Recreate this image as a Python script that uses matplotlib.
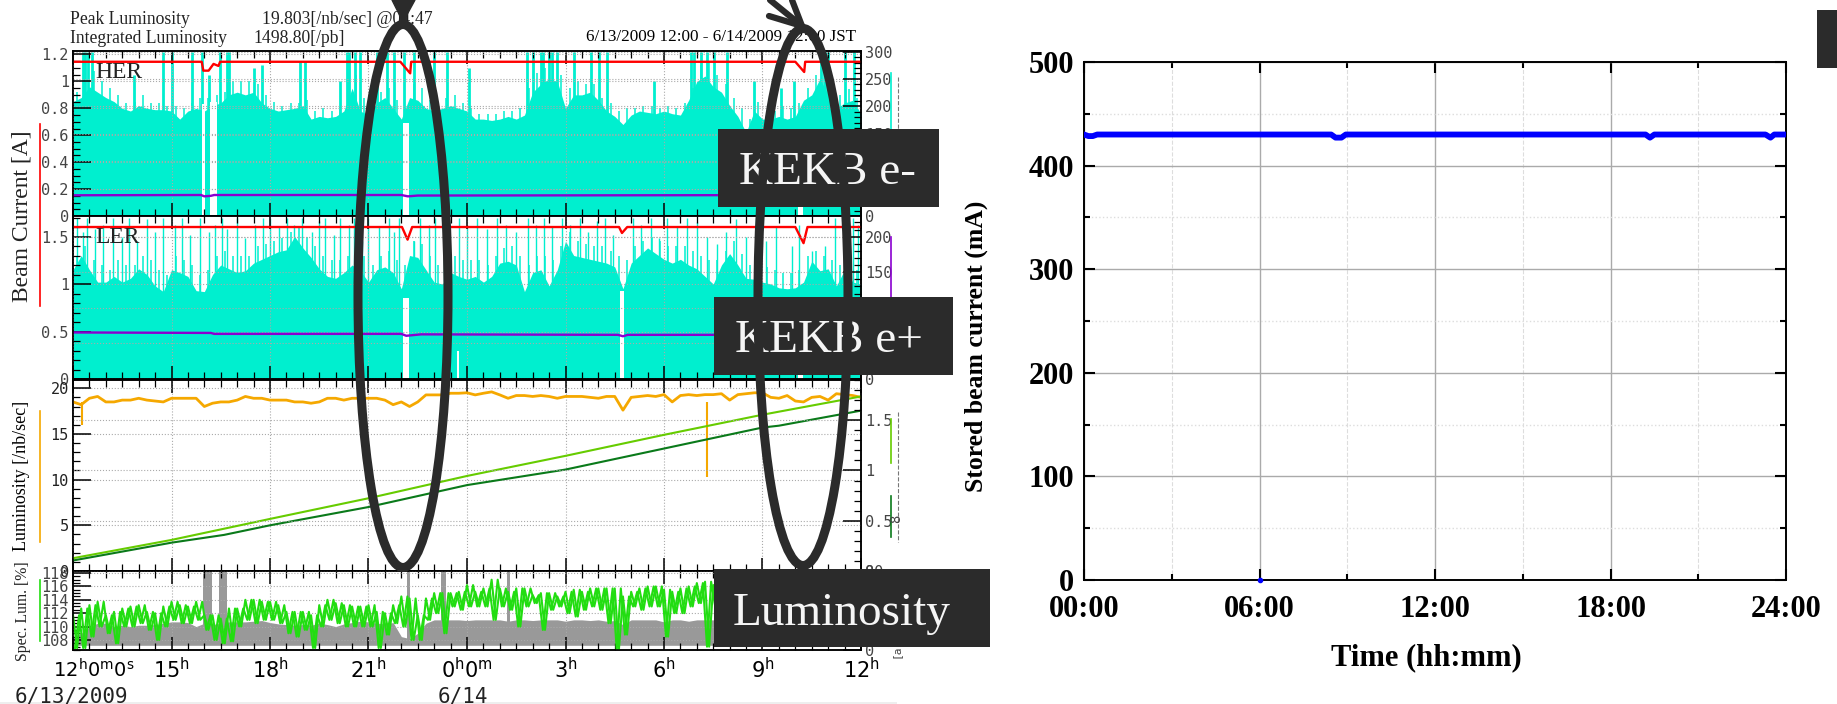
import numpy as np
import matplotlib
matplotlib.use('Agg')
import matplotlib.pyplot as plt
from matplotlib.patches import Ellipse, Rectangle
from matplotlib.ticker import MultipleLocator

W, H = 1837, 704

# ---- left panels, hours since 12:00 on 6/13 ----
her_env = [0.85, 0.88, 0.96, 0.92, 0.88, 0.85, 0.80, 0.78, 0.82, 0.80, 0.79, 0.79, 0.78, 0.72, 0.78, 0.80,
           0.78, 0.82, 0.84, 0.90, 0.92, 0.90, 0.92, 0.84, 0.80, 0.78, 0.79, 0.80, 0.82, 0.72, 0.74, 0.73,
           0.74, 0.78, 0.95, 0.78, 0.75, 0.84, 0.88, 0.80, 0.72, 0.88, 0.86, 0.80, 0.78, 0.80, 0.82, 0.80,
           0.78, 0.72, 0.72, 0.71, 0.72, 0.74, 0.72, 0.75, 0.92, 0.98, 1.02, 1.00, 0.80, 0.90, 0.90, 0.92,
           0.86, 0.78, 0.74, 0.68, 0.75, 0.78, 0.77, 0.76, 0.78, 0.76, 0.75, 0.86, 1.00, 1.04, 0.96, 0.92,
           0.82, 0.74, 0.62, 0.78, 0.72, 0.72, 0.74, 0.72, 0.74, 0.86, 0.90, 1.02, 0.90, 0.80, 0.84, 0.86, 0.76]
her_grass = [0.92, 0.98, 1.08, 1.00, 0.95, 0.90, 0.84, 0.85, 0.90, 0.84, 0.84, 0.82, 0.82, 0.80, 0.84, 0.88,
             0.88, 0.90, 0.92, 1.00, 1.00, 1.00, 0.98, 0.90, 0.85, 0.82, 0.84, 0.84, 0.86, 0.78, 0.80, 0.78,
             0.82, 0.90, 1.05, 0.88, 0.80, 0.92, 0.95, 0.86, 0.80, 0.98, 0.95, 0.86, 0.84, 0.88, 0.90, 0.84,
             0.80, 0.76, 0.76, 0.76, 0.78, 0.78, 0.80, 0.95, 1.06, 1.10, 1.12, 1.05, 0.95, 1.00, 0.98, 0.98,
             0.88, 0.84, 0.78, 0.80, 0.80, 0.82, 0.82, 0.80, 0.82, 0.80, 0.84, 0.95, 1.12, 1.15, 1.05, 0.98,
             0.88, 0.80, 0.72, 0.85, 0.78, 0.78, 0.82, 0.80, 0.84, 0.95, 1.05, 1.12, 1.00, 0.90, 0.94, 0.88]
her_spike_t = [0.31, 0.38, 0.47, 0.57, 1.85, 2.75, 3.0, 3.62, 3.92, 4.13, 4.48, 4.69, 4.75, 5.5, 5.75, 6.9, 7.07, 8.14,
               8.35, 8.42, 8.6, 8.75, 9.26, 9.57, 9.77, 10.07, 10.38, 10.98, 11.4, 12.05, 13.83, 14.0, 14.24, 14.32, 14.5,
               14.6, 14.75, 15.25, 15.77, 16.02, 16.27, 17.7, 18.82, 18.9, 19.12, 19.32, 19.52, 19.93, 20.75, 21.55,
               21.96, 22.78, 22.9, 23.0, 23.5, 23.8]
her_spike_top = [1.22, 1.22, 1.22, 1.22, 1.05, 1.22, 1.22, 1.22, 1.22, 1.05, 1.22, 1.22, 1.22, 1.10, 1.12, 1.15, 1.15, 1.00,
                 1.22, 1.22, 1.22, 1.22, 1.22, 1.22, 1.22, 1.22, 1.22, 1.22, 1.22, 1.10, 1.22, 1.22, 1.22, 1.22, 1.22,
                 1.22, 1.22, 1.22, 1.22, 1.22, 1.22, 1.00, 1.22, 1.22, 1.22, 1.22, 1.22, 1.22, 1.00, 0.95,
                 1.00, 1.22, 1.22, 1.22, 1.22, 1.22]
her_gaps = [(3.92, 4.02, 0.83), (4.18, 4.39, 0.85), (10.05, 10.22, 0.69), (22.07, 22.22, 0.30)]
her_red_t = [0, 3.92, 3.97, 4.13, 4.28, 4.43, 4.48, 9.97, 10.27, 10.3, 22.0, 22.27, 22.3, 24]
her_red = [1.146, 1.146, 1.08, 1.08, 1.13, 1.115, 1.146, 1.146, 1.06, 1.146, 1.146, 1.07, 1.146, 1.146]
her_purple_t = [0, 3.9, 4.0, 4.2, 4.3, 10.0, 10.2, 10.5, 24]
her_purple = [0.154, 0.156, 0.146, 0.150, 0.156, 0.156, 0.146, 0.152, 0.156]

ler_env = [1.15, 1.30, 1.15, 1.02, 1.02, 1.08, 1.02, 1.06, 1.16, 1.10, 0.98, 0.92, 1.15, 1.12, 1.08, 0.93,
           0.92, 1.10, 1.20, 1.16, 1.12, 1.14, 1.22, 1.26, 1.30, 1.34, 1.36, 1.50, 1.38, 1.28, 1.16, 1.08,
           1.06, 1.12, 1.20, 1.14, 1.02, 1.15, 1.18, 1.12, 0.95, 1.30, 1.28, 1.15, 1.02, 1.00, 1.12, 1.08,
           1.05, 1.08, 1.02, 1.08, 1.22, 1.24, 1.20, 0.92, 1.12, 1.15, 0.98, 1.15, 1.45, 1.30, 1.28, 1.26,
           1.24, 1.22, 1.18, 0.95, 1.22, 1.30, 1.38, 1.32, 1.26, 1.22, 1.26, 1.20, 1.16, 1.08, 1.00, 1.20,
           1.32, 1.20, 1.06, 1.05, 1.02, 1.00, 0.96, 0.95, 0.96, 1.02, 1.24, 1.14, 1.16, 0.98, 1.15, 1.02, 1.00]
ler_grass = [1.30, 1.40, 1.25, 1.20, 1.15, 1.25, 1.20, 1.20, 1.30, 1.25, 1.15, 1.10, 1.30, 1.25, 1.20, 1.10,
             1.15, 1.30, 1.35, 1.30, 1.30, 1.30, 1.40, 1.42, 1.45, 1.48, 1.55, 1.60, 1.50, 1.40, 1.30, 1.25,
             1.25, 1.30, 1.35, 1.30, 1.20, 1.30, 1.35, 1.25, 1.20, 1.45, 1.42, 1.30, 1.20, 1.20, 1.30, 1.25,
             1.25, 1.25, 1.20, 1.30, 1.38, 1.40, 1.30, 1.20, 1.30, 1.30, 1.25, 1.40, 1.55, 1.45, 1.42, 1.40,
             1.40, 1.35, 1.30, 1.25, 1.40, 1.45, 1.50, 1.45, 1.40, 1.40, 1.40, 1.35, 1.30, 1.25, 1.25, 1.35,
             1.45, 1.32, 1.20, 1.20, 1.18, 1.15, 1.12, 1.12, 1.15, 1.30, 1.35, 1.30, 1.25, 1.20, 1.25, 1.15]
ler_spike_t = [0.13, 0.31, 0.43, 0.67, 0.92, 1.23, 1.48, 1.72, 1.96, 2.25, 2.5, 2.75, 3.11, 3.31, 3.57, 3.87,
               4.13, 4.33, 4.53, 4.69, 4.99, 5.24, 5.55, 5.8, 6.0, 6.26, 6.51, 6.72, 6.97, 7.28, 7.48, 7.68,
               7.94, 8.14, 8.4, 8.55, 8.8, 9.0, 9.31, 9.61, 9.77, 9.92, 10.38, 10.58, 10.83, 11.03, 11.29,
               11.75, 12.0, 12.3, 12.6, 12.9, 13.2, 13.5, 13.85, 14.1, 14.35, 14.6, 14.9, 15.15, 15.45, 15.7,
               15.95, 16.2, 16.45, 17.05, 17.3, 17.6, 17.85, 18.1, 18.4, 18.7, 19.0, 19.3, 19.6, 19.9, 20.2,
               20.5, 20.8, 21.1, 21.4, 21.9, 22.1, 22.5, 22.9, 23.2, 23.55, 23.75, 23.9]
ler_spike_top = [1.70, 1.55, 1.70, 1.58, 1.62, 1.70, 1.50, 1.70, 1.45, 1.68, 1.55, 1.70, 1.62, 1.70, 1.52, 1.70,
                 1.55, 1.62, 1.70, 1.58, 1.70, 1.48, 1.62, 1.70, 1.70, 1.60, 1.70, 1.62, 1.70, 1.55, 1.66, 1.70,
                 1.52, 1.70, 1.62, 1.70, 1.45, 1.70, 1.60, 1.70, 1.55, 1.70, 1.45, 1.70, 1.62, 1.70, 1.50,
                 1.70, 1.62, 1.70, 1.58, 1.70, 1.62, 1.55, 1.70, 1.62, 1.70, 1.60, 1.70, 1.62, 1.70, 1.55,
                 1.66, 1.70, 1.52, 1.70, 1.62, 1.70, 1.48, 1.70, 1.60, 1.70, 1.65, 1.50, 1.42, 1.55, 1.68,
                 1.50, 1.70, 1.45, 1.60, 1.40, 1.62, 1.35, 1.40, 1.70, 1.62, 1.70, 1.62]
ler_gaps = [(10.05, 10.22, 0.85), (11.7, 11.76, 0.30), (16.65, 16.78, 0.93), (22.07, 22.22, 0.30)]
ler_red_t = [0, 10.02, 10.19, 10.33, 16.63, 16.72, 16.88, 22.0, 22.25, 22.37, 24]
ler_red = [1.60, 1.60, 1.467, 1.60, 1.60, 1.537, 1.60, 1.60, 1.43, 1.60, 1.60]
ler_purple_t = [0, 4.2, 4.3, 10.0, 10.15, 10.6, 16.6, 16.75, 16.9, 24]
ler_purple = [0.49, 0.485, 0.475, 0.475, 0.455, 0.47, 0.465, 0.45, 0.465, 0.465]

orange = [18.5, 18.2, 18.9, 19.1, 18.5, 18.5, 18.7, 18.7, 18.9, 18.7, 18.6, 18.5, 18.9, 18.9, 18.9, 18.9,
          18.0, 18.36, 18.5, 18.5, 18.7, 19.1, 18.9, 18.9, 18.7, 18.7, 18.7, 18.5, 18.5, 18.36, 18.5, 18.9,
          18.9, 18.7, 18.9, 18.9, 18.9, 18.9, 18.7, 18.2, 18.5, 18.0, 18.5, 19.27, 19.27, 19.27, 19.45, 19.45,
          19.5, 19.27, 19.45, 19.6, 19.27, 18.9, 19.2, 19.2, 19.1, 19.2, 19.1, 18.9, 19.1, 19.1, 19.1, 19.0,
          18.9, 19.1, 19.1, 17.6, 19.0, 19.1, 19.2, 19.1, 19.3, 18.5, 19.2, 19.3, 19.2, 19.3, 19.3, 19.4,
          18.7, 19.3, 19.4, 19.5, 19.5, 19.0, 18.9, 19.2, 18.6, 18.5, 19.0, 19.1, 18.7, 19.4, 19.3, 19.2, 19.0]
orange_dip_t = [0.27, 19.3]
orange_dip = [16.0, 10.3]
lum_light_t = [0, 3, 6, 9, 12, 15, 18, 21, 24]
lum_light = [1.4, 3.4, 5.7, 7.96, 10.4, 12.6, 14.9, 17.1, 19.1]
lum_dark_t = [0, 3, 4.6, 6, 9, 12, 15, 18, 21, 21.5, 24]
lum_dark = [1.15, 3.1, 3.95, 5.0, 7.0, 9.4, 11.1, 13.4, 15.7, 15.9, 17.55]

spec_hi = [111.7, 112.7, 113.2, 113.7, 111.7, 112.2, 112.7, 113, 113.2, 112.2, 112, 113, 113.7, 113.2, 113, 113.7,
           111.7, 111.7, 111.2, 112.7, 112.7, 114, 114, 113.7, 113.7, 113.2, 112.2, 112.2, 112.2, 111.7, 113.2, 114,
           113.5, 113.2, 113, 113, 113.2, 112.2, 112, 113.2, 114.5, 114.2, 111.7, 114.2, 115, 115, 115, 115.2,
           116.2, 115.2, 115.7, 117, 115.7, 115.2, 115.7, 115.7, 114.7, 115, 115, 114.5, 115.2, 115.5, 115.2, 115.7,
           115.7, 115.7, 115.7, 114.5, 115.2, 115.7, 116, 116, 115.5, 115.2, 115.7, 116, 116.5, 116.7, 116.2,
           116, 116.5, 115.5, 115.8, 116, 116.2, 115.5, 116, 115.8, 115.5, 116, 116.2, 115.8, 115.5, 116, 115.7, 115.5, 115.8]
spec_lo = [106.8, 106.8, 108.5, 110, 109, 107.5, 110, 110, 110.5, 109.5, 108, 110, 111, 110.5, 110.5, 111,
           109.5, 108, 107.5, 107.8, 110, 111, 110.5, 111, 111, 110.5, 109, 108.5, 109.5, 106.8, 110, 111,
           110.5, 110, 110, 110, 110, 106.8, 108.8, 110.5, 110, 108, 108, 111, 112, 109, 113, 112.5,
           113, 113, 113, 111, 113, 112.5, 110, 113, 113.5, 109.5, 112.5, 113, 112, 111.5, 112.5, 113,
           112.5, 110.5, 106.5, 108.8, 113, 112.5, 113, 113, 108.5, 112, 112, 113, 113.5, 107, 113,
           113, 113.5, 113, 112, 113.5, 113, 113, 112, 113, 113.5, 113, 112.5, 113, 113, 113, 112.5, 113, 113]
spec_gray = [108.5, 109, 110, 110.5, 110.5, 110, 110.2, 110, 110.2, 110.2, 110.3, 110.5, 110.7, 110.7, 110.6, 110,
             110.5, 110.3, 110.5, 110.7, 110.7, 110.7, 110.8, 110.9, 110.6, 110.4, 110.3, 110.2, 110.3, 110.2, 110.5, 110.3,
             110, 110.4, 110.6, 110.8, 110.7, 110.5, 110.4, 110.6, 108.5, 108.2, 109, 110.5, 111, 111, 111, 111,
             110.9, 111, 111, 111, 111, 110.8, 111, 111, 110.9, 111, 111, 111, 110.8, 111, 111, 110.9,
             111, 110.8, 110.9, 110.3, 111, 111, 111, 111, 110.7, 111, 111, 110.8, 111, 111, 111,
             111, 111, 111, 111, 111, 111, 111, 111, 111, 111, 111, 111, 111, 111, 111, 111, 111, 111]
gray_tall = [(3.95, 4.23), (4.45, 4.68), (10.18, 10.27), (11.21, 11.37), (13.22, 13.32)]

# ---- right panel ----
blue_t = [0, 0.15, 0.3, 0.45, 8.45, 8.6, 8.8, 8.95, 19.2, 19.35, 19.5, 23.3, 23.47, 23.6, 24]
blue = [430, 428.5, 428.5, 430, 430, 427, 427, 430, 430, 427, 430, 430, 427, 430, 430]

plt.rcParams['mathtext.fontset'] = 'custom'
plt.rcParams['mathtext.rm'] = 'DejaVu Sans Mono'

TEAL = '#00EFCF'
RED = '#FF0000'
PURPLE = '#8A00D0'
ORANGE = '#F5A800'
LIGHT = '#66CC00'
DARK = '#0A7A1A'
GREEN = '#22DD11'
GRAY = '#999999'
BOX = '#2B2B2B'
SERIF = 'Liberation Serif'
MONO = 'DejaVu Sans Mono'

fig = plt.figure(figsize=(W / 100, H / 100), dpi=100)


def px_axes(x0, y0, x1, y1):
    return fig.add_axes([x0 / W, 1 - y1 / H, (x1 - x0) / W, (y1 - y0) / H])


def style_panel(ax, ymax, major, minor, ticks, labels, right_max, right_minor, right_ticks, right_labels):
    ax.set_xlim(0, 24)
    ax.set_ylim(0, ymax)
    ax.set_axisbelow(False)
    ax.xaxis.set_major_locator(MultipleLocator(3))
    ax.xaxis.set_minor_locator(MultipleLocator(0.5))
    ax.yaxis.set_minor_locator(MultipleLocator(minor))
    ax.set_yticks(ticks, labels=labels)
    ax.tick_params(axis='x', which='major', direction='in', top=True, length=9.4, width=1.1, labelbottom=False)
    ax.tick_params(axis='x', which='minor', direction='in', top=True, length=5, width=0.9)
    ax.tick_params(axis='y', which='major', direction='in', length=13, width=1.1, labelsize=11,
                   labelcolor='#444444', pad=3)
    ax.tick_params(axis='y', which='minor', direction='in', length=5, width=0.9)
    for label in ax.get_yticklabels():
        label.set_family(MONO)
    ax.grid(True, which='major', color='#aaaaaa', linestyle=':', linewidth=0.8)
    for s in ax.spines.values():
        s.set_linewidth(1.1)
    rax = ax.twinx()
    rax.set_ylim(0, right_max)
    rax.yaxis.set_minor_locator(MultipleLocator(right_minor))
    rax.set_yticks(right_ticks, labels=right_labels)
    rax.tick_params(axis='y', which='major', direction='in', length=13, width=1.1, labelsize=11,
                    labelcolor='#444444', pad=3)
    rax.tick_params(axis='y', which='minor', direction='in', length=5, width=0.9)
    for label in rax.get_yticklabels():
        label.set_family(MONO)
    rax.grid(True, which='major', axis='y', color='#aaaaaa', linestyle=':', linewidth=0.8)
    for s in rax.spines.values():
        s.set_linewidth(1.1)
    return rax


def draw_beam(ax, env, grass, spike_t, spike_top, spike_lw, gaps, red_t, red, purple_t, purple):
    t = np.linspace(0, 24, len(env))
    ax.fill_between(t, 0, env, color=TEAL, linewidth=0, zorder=1)
    # thin needles sitting on the envelope
    ax.vlines(t[:-1] + 0.125, 0, grass, color=TEAL, linewidth=1.1, zorder=1.1)
    ax.vlines(spike_t, 0, spike_top, color=TEAL, linewidth=spike_lw, zorder=1.1)
    for g0, g1, top in gaps:
        ax.add_patch(Rectangle((g0, 0), g1 - g0, top, facecolor='white', edgecolor='none', zorder=1.2))
    ax.plot(red_t, red, color=RED, linewidth=1.7, zorder=3)
    ax.plot(purple_t, purple, color=PURPLE, linewidth=1.7, zorder=3)


# beam current panels
ax_her = px_axes(73, 51, 861, 216)
rax_her = style_panel(ax_her, 1.226, 0.2, 0.05, [0, 0.2, 0.4, 0.6, 0.8, 1.0, 1.2],
                      ['0', '0.2', '0.4', '0.6', '0.8', '1', '1.2'], 301, 10,
                      [0, 50, 100, 150, 200, 250, 300], ['0', '50', '100', '150', '200', '250', '300'])
draw_beam(ax_her, her_env, her_grass, her_spike_t, her_spike_top, 2.0, her_gaps,
          her_red_t, her_red, her_purple_t, her_purple)

ax_ler = px_axes(73, 216, 861, 379)
rax_ler = style_panel(ax_ler, 1.716, 0.5, 0.1, [0, 0.5, 1.0, 1.5], ['0', '0.5', '1', '1.5'], 229, 10,
                      [0, 50, 100, 150, 200], ['0', '50', '100', '150', '200'])
draw_beam(ax_ler, ler_env, ler_grass, ler_spike_t, ler_spike_top, 1.0, ler_gaps,
          ler_red_t, ler_red, ler_purple_t, ler_purple)

# luminosity panel
ax_lum = px_axes(73, 380, 861, 571)
rax_lum = style_panel(ax_lum, 20.9, 5, 1, [0, 5, 10, 15, 20], ['0', '5', '10', '15', '20'], 1.9, 0.1,
                      [0, 0.5, 1.0, 1.5], ['0', '0.5', '1', '1.5'])
ax_lum.tick_params(axis='y', which='major', labelcolor='#222222')
t_orange = np.linspace(0, 24, len(orange))
ax_lum.plot(t_orange, orange, color=ORANGE, linewidth=2, zorder=3)
ax_lum.vlines(orange_dip_t, orange_dip, 18.5, color=ORANGE, linewidth=1.5, zorder=3)
ax_lum.plot(lum_light_t, lum_light, color=LIGHT, linewidth=1.5, zorder=3)
ax_lum.plot(lum_dark_t, lum_dark, color=DARK, linewidth=1.5, zorder=3)

# specific luminosity panel
ax_spec = px_axes(73, 571, 861, 650)
rax_spec = style_panel(ax_spec, 118.3, 2, 0.5, [108, 110, 112, 114, 116, 118],
                       ['108', '110', '112', '114', '116', '118'], 80, 5, [0, 80], ['0', '80'])
ax_spec.set_ylim(106.5, 118.3)
t_spec = np.linspace(0, 24, len(spec_hi))
ax_spec.fill_between(t_spec, 107.2, spec_gray, color=GRAY, linewidth=0, zorder=1)
for g0, g1 in gray_tall:
    ax_spec.add_patch(Rectangle((g0, 107.2), g1 - g0, 11.1, facecolor=GRAY, edgecolor='none', zorder=1))
# the green trace is drawn as two zigzags over the same read values so it closes up into a band
t_zig = np.column_stack([t_spec, t_spec + 0.125]).ravel()
ax_spec.plot(t_zig, np.column_stack([spec_hi, spec_lo]).ravel(), color=GREEN, linewidth=1.5, zorder=3)
ax_spec.plot(t_zig + 0.06, np.column_stack([spec_lo, spec_hi]).ravel(), color=GREEN, linewidth=1.5, zorder=3)
ax_spec.set_xticks([0, 3, 6, 9, 12, 15, 18, 21, 24],
                   labels=['', r'$\mathdefault{15^{h}}$', r'$\mathdefault{18^{h}}$', r'$\mathdefault{21^{h}}$',
                           r'$\mathdefault{0^{h}0^{m}}$', r'$\mathdefault{3^{h}}$', r'$\mathdefault{6^{h}}$',
                           r'$\mathdefault{9^{h}}$', r'$\mathdefault{12^{h}}$'])
ax_spec.tick_params(axis='x', which='major', labelbottom=True, labelsize=15, pad=5)

# right chart
ax_r = px_axes(1084, 62, 1786, 580)
ax_r.set_xlim(0, 24)
ax_r.set_ylim(0, 500)
ax_r.set_xticks([0, 6, 12, 18, 24], labels=['00:00', '06:00', '12:00', '18:00', '24:00'])
ax_r.set_yticks([0, 100, 200, 300, 400, 500])
ax_r.xaxis.set_minor_locator(MultipleLocator(3))
ax_r.yaxis.set_minor_locator(MultipleLocator(50))
ax_r.grid(True, which='major', color='#aaaaaa', linestyle='-', linewidth=1.0)
ax_r.grid(True, which='minor', axis='x', color='#dddddd', linestyle='--', linewidth=0.8)
ax_r.grid(True, which='minor', axis='y', color='#dddddd', linestyle=':', linewidth=1.0)
ax_r.set_axisbelow(True)
ax_r.tick_params(axis='x', which='major', direction='in', top=True, length=8, width=1.5, pad=11)
ax_r.tick_params(axis='y', which='major', direction='in', right=True, length=8, width=1.5, pad=7)
ax_r.tick_params(which='minor', direction='in', top=True, right=True, length=4.5, width=1.5)
for label in ax_r.get_xticklabels() + ax_r.get_yticklabels():
    label.set_family(SERIF)
    label.set_weight('bold')
    label.set_size(22)
for s in ax_r.spines.values():
    s.set_linewidth(1.4)
ax_r.plot(blue_t, blue, color='#0000FF', linewidth=4.2, zorder=3)
ax_r.plot([6], [0], marker='o', color='#0000FF', markersize=3, clip_on=False, zorder=3)

# annotations in pixel coordinates
ov = fig.add_axes([0, 0, 1, 1], zorder=10)
ov.set_xlim(0, W)
ov.set_ylim(H, 0)
ov.axis('off')


def serif_text(x, y, s, size, **kw):
    ov.text(x, y, s, family=SERIF, fontsize=size, va='baseline', **kw)


serif_text(70, 24, 'Peak Luminosity', 12.7, color='#222222')
serif_text(262, 24, '19.803[/nb/sec] @04:47', 12.7, color='#222222')
serif_text(70, 43, 'Integrated Luminosity', 12.7, color='#222222')
serif_text(253, 43, '1498.80[/pb]', 12.7, color='#222222')
serif_text(586, 41, '6/13/2009 12:00 - 6/14/2009 12:00 JST', 12.3, color='black')
serif_text(95, 78, 'HER', 17, color='#222222')
serif_text(95, 243, 'LER', 17, color='#222222')
ov.text(22, 216, 'Beam Current [A]', family=SERIF, fontsize=17, rotation=90, ha='center', va='center', color='#222222')
ov.text(22, 476, 'Luminosity [/nb/sec]', family=SERIF, fontsize=13, rotation=90, ha='center', va='center', color='black')
ov.text(23, 611, 'Spec. Lum. [%]', family=SERIF, fontsize=11.3, rotation=90, ha='center', va='center', color='#222222')

ov.text(53, 678, r'$\mathdefault{12^{h}0^{m}0^{s}}$', fontsize=14, va='baseline', color='black')
ov.text(15, 702, '6/13/2009', family=MONO, fontsize=15, va='baseline', color='#222222')
ov.text(438, 702, '6/14', family=MONO, fontsize=15, va='baseline', color='#222222')

ov.text(976, 346, 'Stored beam current (mA)', family=SERIF, weight='bold', fontsize=18.5, rotation=90,
        ha='center', va='center', color='black')
ov.text(1426, 658, 'Time (hh:mm)', family=SERIF, weight='bold', fontsize=22, ha='center', va='center', color='black')

# side colour keys
ov.plot([40, 40], [124, 306], color=RED, linewidth=1.2)
ov.plot([40, 40], [411, 542], color=ORANGE, linewidth=1.2)
ov.plot([40, 40], [580, 641], color=GREEN, linewidth=1.2)
ov.plot([891, 891], [73, 130], color=TEAL, linewidth=1.2)
ov.plot([891, 891], [237, 297], color=PURPLE, linewidth=1.2)
ov.plot([891, 891], [419, 463], color=LIGHT, linewidth=1.2)
ov.plot([891, 891], [496, 537], color=DARK, linewidth=1.2)
ov.plot([898, 898], [77, 130], color='#777777', linewidth=0.8, linestyle='--')
ov.plot([898, 898], [412, 542], color='#777777', linewidth=0.8, linestyle='--')
ov.text(896, 519, '8', family=MONO, fontsize=10, rotation=90, ha='center', va='center', color='#444444')
ov.text(896, 651, '[a', family=MONO, fontsize=8, rotation=90, ha='center', va='center', color='#444444')
ov.add_patch(Rectangle((0, 702), 897, 2, facecolor='#eeeeee', edgecolor='none'))

# dark labels, the ellipses go over their text
for x0, y0, x1, y1 in [(718, 129, 939, 207), (714, 297, 953, 375), (714, 569, 990, 647), (1817, 10, 1837, 68)]:
    ov.add_patch(Rectangle((x0, y0), x1 - x0, y1 - y0, facecolor=BOX, edgecolor='none', zorder=3))
serif_text(739, 184, 'KEKB e-', 34, color='#f5f5f5', zorder=4)
serif_text(735, 352, 'KEKB e+', 34, color='#f5f5f5', zorder=4)
serif_text(733, 625, 'Luminosity', 34, color='#f5f5f5', zorder=4)

ov.add_patch(Ellipse((403, 296), 90, 543, facecolor='none', edgecolor=BOX, linewidth=6.5, zorder=5))
ov.add_patch(Ellipse((803, 297), 90, 537, facecolor='none', edgecolor=BOX, linewidth=6.5, zorder=5))

ov.fill([392, 415, 403], [0, 0, 22], color=BOX, zorder=5)
ov.plot([403, 403], [0, 22], color=BOX, linewidth=5, zorder=5)
ov.plot([770, 802], [0, 26], color=BOX, linewidth=4.5, solid_capstyle='round', zorder=5)
ov.plot([769, 802], [16, 26], color=BOX, linewidth=4.5, solid_capstyle='round', zorder=5)
ov.plot([792, 802], [0, 26], color=BOX, linewidth=4.5, solid_capstyle='round', zorder=5)

fig.savefig('out.png', dpi=100)
